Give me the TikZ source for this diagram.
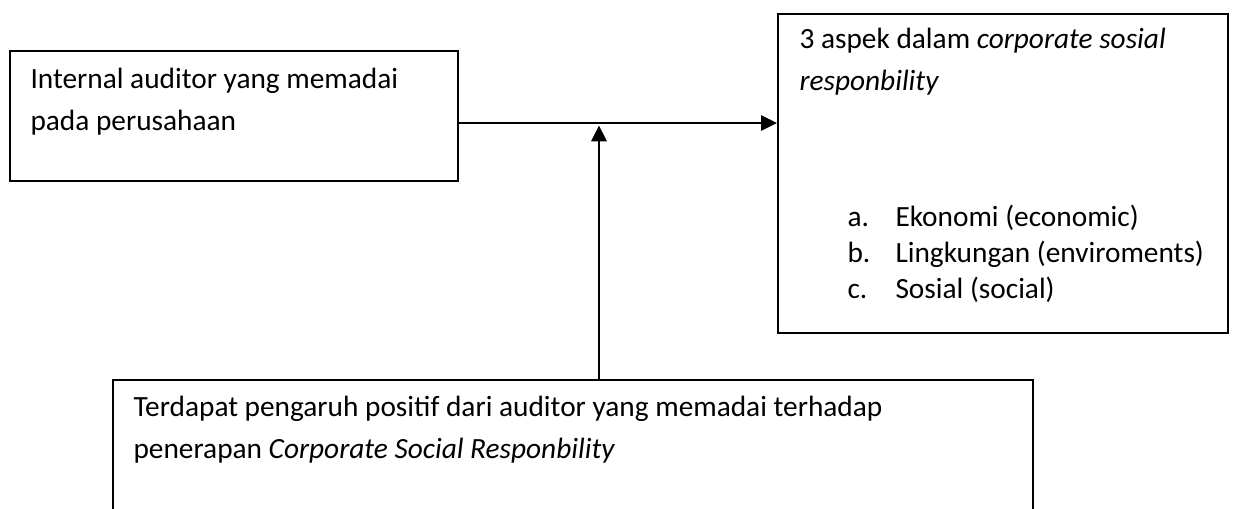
\documentclass[tikz,border=0pt]{standalone}
\usepackage{fontspec}
\setmainfont{Carlito}
\usetikzlibrary{arrows.meta, positioning}
\tikzset{
  framebox/.style={
    draw=black, line width=0.75pt, inner sep=0pt,
    anchor=north west
  },
  boxtext/.style={
    anchor=base west, inner sep=0pt, align=left,
    font=\fontsize{11pt}{15.4pt}\selectfont
  },
  listtext/.style={
    anchor=base west, inner sep=0pt, align=left,
    font=\fontsize{11pt}{13.4pt}\selectfont
  },
  flowarrow/.style={
    -{Triangle[length=6pt,width=5.7pt]},
    draw=black, line width=1pt
  },
}
\newcommand{\itemlabel}[1]{\makebox[18pt][l]{#1}}

\begin{document}
\begin{tikzpicture}[x=0.375pt, y=-0.375pt]
    \useasboundingbox (0,0) rectangle (1233,508);

    %% Internal auditor
    \node[framebox, minimum width=168pt, minimum height=48.75pt] (auditor) at (9,50) {};
    \node[boxtext] (auditortxt) at ([shift={(21,80)}]auditor.north west)
      {Internal auditor yang memadai\\pada perusahaan};

    %% CSR aspects
    \node[framebox, minimum width=168.75pt, minimum height=119.6pt] (aspek) at (777,13) {};
    \node[boxtext] (aspektxt) at ([shift={(22,77)}]aspek.north west)
      {3 aspek dalam \textit{corporate sosial}\\\textit{responbility}};
    \node[listtext] (aspeklist) at ([shift={(70,285)}]aspek.north west)
      {\itemlabel{a.}Ekonomi (economic)\\
       \itemlabel{b.}Lingkungan (enviroments)\\
       \itemlabel{c.}Sosial (social)};

    %% Result
    \node[framebox, minimum width=345pt, minimum height=60pt] (hasil) at (112,379) {};
    \node[boxtext] (hasiltxt) at ([shift={(21,79)}]hasil.north west)
      {Terdapat pengaruh positif dari auditor yang memadai terhadap\\
       penerapan \textit{Corporate Social Responbility}};

    %% Arrows
    \coordinate (join) at (599,123);
    \draw[flowarrow] (join -| auditor.east) -- (join -| aspek.west);
    \draw[flowarrow, shorten >=0.5pt] (join |- hasil.north) -- ([yshift=-0.4pt]join);

  \end{tikzpicture}
\end{document}
